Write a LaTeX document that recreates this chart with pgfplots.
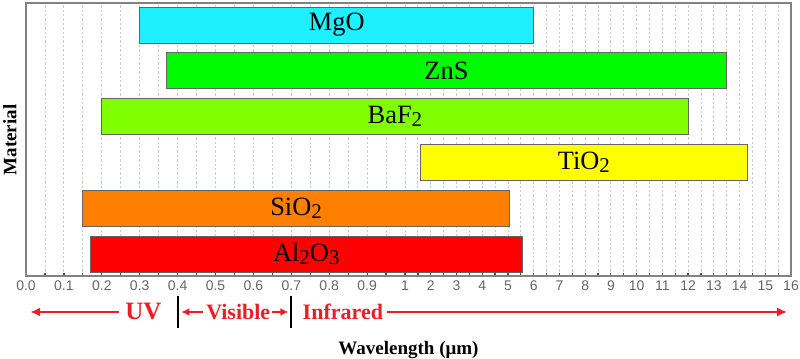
\documentclass[border=0pt]{standalone}
\usepackage{pgfplots}
\pgfplotsset{compat=1.18}
\usetikzlibrary{arrows.meta}
\usepackage{fontspec}
\setmainfont{Liberation Serif}
\newfontfamily\arialfont{Liberation Sans}
\definecolor{axgray}{RGB}{130,130,130}
\definecolor{baredge}{RGB}{100,100,100}
\definecolor{cMgO}{RGB}{30,240,255}
\definecolor{cZnS}{RGB}{0,250,0}
\definecolor{cBaF}{RGB}{128,255,0}
\definecolor{cTiO}{RGB}{255,255,0}
\definecolor{cSiO}{RGB}{255,128,0}
\definecolor{cAlO}{RGB}{255,0,0}
\definecolor{annred}{RGB}{235,30,40}
\tikzset{barlab/.style={font=\fontsize{13.2}{15}\selectfont, inner sep=0pt}}
\newcommand{\sub}[1]{\raisebox{-0.28ex}{\fontsize{10.5}{12}\selectfont #1}}
\begin{document}
\begin{tikzpicture}
\begin{axis}[
  scale only axis, width=382.5pt, height=136.5pt,
  xmin=0, xmax=16, ymin=0.52, ymax=6.48,
  x coord trafo/.code={\pgfmathparse{(#1<=1)*#1*379+(#1>1)*(379+(#1-1)*25.73)}},
  xtick={0,0.1,0.2,0.3,0.4,0.5,0.6,0.7,0.8,0.9,1,2,3,4,5,6,7,8,9,10,11,12,13,14,15,16},
  xticklabels={0.0,0.1,0.2,0.3,0.4,0.5,0.6,0.7,0.8,0.9,1,2,3,4,5,6,7,8,9,10,11,12,13,14,15,16},
  minor xtick={0.05,0.15,0.25,0.35,0.45,0.55,0.65,0.75,0.85,0.95,1.5,2.5,3.5,4.5,5.5,6.5,7.5,8.5,9.5,10.5,11.5,12.5,13.5,14.5,15.5},
  ytick=\empty,
  xtick pos=bottom, tick align=inside,
  major tick length=1.6pt, minor tick length=1.6pt,
  every tick/.style={black!70, line width=0.6pt},
  xticklabel style={font=\arialfont\fontsize{7}{8}\selectfont, text=black!60, yshift=1pt},
  xmajorgrids, xminorgrids,
  major grid style={black!20, dash pattern=on 1.2pt off 1pt, line width=0.45pt},
  minor grid style={black!20, dash pattern=on 1.2pt off 1pt, line width=0.45pt},
  axis line style={draw=axgray, line width=0.7pt},
  clip=false,
]
% bars (floating ranges)
\addplot[fill=cMgO, draw=baredge, line width=0.4pt] coordinates {(0.3,5.607) (6,5.607) (6,6.393) (0.3,6.393)} -- cycle;
\addplot[fill=cZnS, draw=baredge, line width=0.4pt] coordinates {(0.37,4.607) (13.5,4.607) (13.5,5.393) (0.37,5.393)} -- cycle;
\addplot[fill=cBaF, draw=baredge, line width=0.4pt] coordinates {(0.2,3.607) (12,3.607) (12,4.393) (0.2,4.393)} -- cycle;
\addplot[fill=cTiO, draw=baredge, line width=0.4pt] coordinates {(1.6,2.607) (14.3,2.607) (14.3,3.393) (1.6,3.393)} -- cycle;
\addplot[fill=cSiO, draw=baredge, line width=0.4pt] coordinates {(0.15,1.607) (5.05,1.607) (5.05,2.393) (0.15,2.393)} -- cycle;
\addplot[fill=cAlO, draw=baredge, line width=0.4pt] coordinates {(0.17,0.607) (5.55,0.607) (5.55,1.393) (0.17,1.393)} -- cycle;
% bar labels
\path (axis cs:0.3,6) -- (axis cs:6,6) node[midway, barlab]{MgO};
\path (axis cs:0.37,5) -- (axis cs:13.5,5) node[midway, barlab]{ZnS};
\path (axis cs:0.2,4) -- (axis cs:12,4) node[midway, barlab]{BaF\sub{2}};
\path (axis cs:1.6,3) -- (axis cs:14.3,3) node[midway, barlab]{TiO\sub{2}};
\path (axis cs:0.15,2) -- (axis cs:5.05,2) node[midway, barlab]{SiO\sub{2}};
\path (axis cs:0.17,1) -- (axis cs:5.55,1) node[midway, barlab]{Al\sub{2}O\sub{3}};
% spectral region annotation
\draw[annred, line width=1.1pt, -{Latex[length=5pt,width=4.5pt]}] (axis cs:0.245,-0.266) -- (axis cs:0.011,-0.266);
\node[annred, font=\bfseries\fontsize{12.5}{14}\selectfont] at (axis cs:0.31,-0.266) {UV};
\draw[black, line width=1.1pt] (axis cs:0.4,0.083) -- (axis cs:0.4,-0.615);
\draw[black, line width=1.1pt] (axis cs:0.7,0.083) -- (axis cs:0.7,-0.615);
\draw[annred, line width=1.1pt, -{Latex[length=4pt,width=4pt]}] (axis cs:0.467,-0.266) -- (axis cs:0.41,-0.266);
\node[annred, font=\bfseries\fontsize{11}{13}\selectfont] at (axis cs:0.56,-0.266) {Visible};
\draw[annred, line width=1.1pt, -{Latex[length=4pt,width=4pt]}] (axis cs:0.649,-0.266) -- (axis cs:0.692,-0.266);
\node[annred, font=\bfseries\fontsize{11}{13}\selectfont] at (axis cs:0.836,-0.266) {Infrared};
\draw[annred, line width=1.1pt, -{Latex[length=5pt,width=4.5pt]}] (axis cs:0.953,-0.266) -- (axis cs:15.85,-0.266);
% axis titles
\node[font=\bfseries\fontsize{9.5}{11}\selectfont] at (rel axis cs:0.5,-0.271) {Wavelength (μm)};
\node[font=\bfseries\fontsize{9.5}{11}\selectfont, rotate=90] at (rel axis cs:-0.021,0.498) {Material};
\end{axis}
\pgfresetboundingbox
\path ([shift={(-13pt,-41.5pt)}]current axis.south west) rectangle ([shift={(4.5pt,1.5pt)}]current axis.north east);
\end{tikzpicture}
\end{document}
